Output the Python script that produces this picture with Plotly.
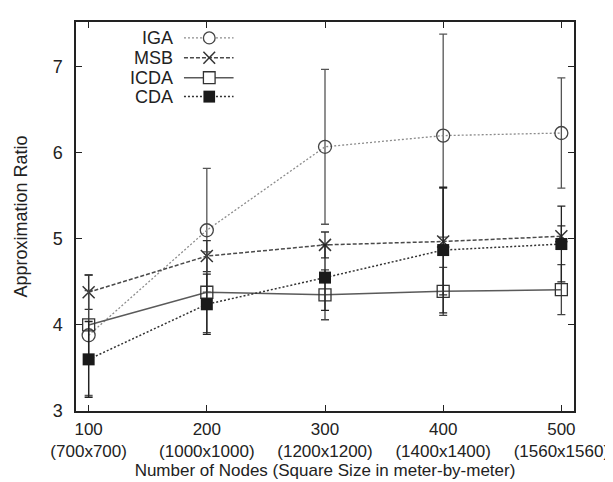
import plotly.graph_objects as go

nodes = [100, 200, 300, 400, 500]
tick_labels = ["100<br>(700x700)", "200<br>(1000x1000)", "300<br>(1200x1200)",
               "400<br>(1400x1400)", "500<br>(1560x1560)"]

iga = [3.88, 5.10, 6.07, 6.20, 6.23]
iga_err = [0.70, 0.72, 0.90, 1.18, 0.64]
msb = [4.38, 4.80, 4.93, 4.97, 5.03]
msb_err = [0.20, 0.18, 0.15, 0.62, 0.12]
icda = [4.00, 4.38, 4.35, 4.39, 4.41]
icda_err = [0.40, 0.47, 0.29, 0.28, 0.29]
cda = [3.60, 4.24, 4.55, 4.87, 4.94]
cda_err = [0.44, 0.35, 0.38, 0.73, 0.44]

series = [
    ("IGA", iga, iga_err, dict(color="#8c8c8c", width=1.3, dash="2px,2px"),
     dict(symbol="circle-open", size=13, color="#444", line=dict(width=1.3, color="#444")), "#555"),
    ("MSB", msb, msb_err, dict(color="#4a4a4a", width=1.5, dash="4px,2px"),
     dict(symbol="x-thin-open", size=12, color="#333", line=dict(width=1.5, color="#333")), "#333"),
    ("ICDA", icda, icda_err, dict(color="#5a5a5a", width=1.5),
     dict(symbol="square-open", size=12, color="#333", line=dict(width=1.3, color="#333")), "#444"),
    ("CDA", cda, cda_err, dict(color="#333", width=1.5, dash="2px,2px"),
     dict(symbol="square", size=12, color="#1a1a1a", line=dict(width=0)), "#222"),
]

fig = go.Figure()
for name, ys, errs, ln, mk, ecol in series:
    fig.add_trace(go.Scatter(
        x=nodes, y=ys, name=name, mode="lines+markers",
        line=ln, marker=mk,
        error_y=dict(type="data", array=errs, visible=True, color=ecol,
                     thickness=1.3, width=4),
        showlegend=False,
    ))

# custom legend (text right-aligned, sample to its right)
L, R, T, B = 66, 578, 12, 403
def px(xp):
    return (xp - L) / (R - L)
def py(yp):
    return (B - yp) / (B - T)

rows = [28, 48, 68, 87]
shapes = []
annotations = []
for (name, ys, errs, ln, mk, ecol), ry in zip(series, rows):
    annotations.append(dict(xref="paper", yref="paper", x=px(168), y=py(ry),
                            text=name, showarrow=False, xanchor="right", yanchor="middle",
                            font=dict(family="Liberation Sans, Arial", size=18, color="#222")))
    shapes.append(dict(type="line", xref="paper", yref="paper",
                       x0=px(177), x1=px(228), y0=py(ry), y1=py(ry),
                       line=dict(color=ln["color"], width=ln["width"], dash=ln.get("dash", "solid"))))
    cx, cy, h = 203, ry, 6
    if name == "IGA":
        shapes.append(dict(type="circle", xref="paper", yref="paper",
                           x0=px(cx - h), x1=px(cx + h), y0=py(cy + h), y1=py(cy - h),
                           fillcolor="white", line=dict(color="#444", width=1.3)))
    elif name == "MSB":
        for s in (1, -1):
            shapes.append(dict(type="line", xref="paper", yref="paper",
                               x0=px(cx - h), x1=px(cx + h), y0=py(cy - s * h), y1=py(cy + s * h),
                               line=dict(color="#333", width=1.5)))
    elif name == "ICDA":
        shapes.append(dict(type="rect", xref="paper", yref="paper",
                           x0=px(cx - h), x1=px(cx + h), y0=py(cy + h), y1=py(cy - h),
                           fillcolor="white", line=dict(color="#333", width=1.3)))
    else:
        shapes.append(dict(type="rect", xref="paper", yref="paper",
                           x0=px(cx - h), x1=px(cx + h), y0=py(cy + h), y1=py(cy - h),
                           fillcolor="#1a1a1a", line=dict(color="#1a1a1a", width=0)))

axis_common = dict(showline=True, linecolor="#222", linewidth=1.5, mirror="ticks",
                   ticks="inside", ticklen=6, tickcolor="#222", tickwidth=1.3,
                   showgrid=False, zeroline=False)

fig.update_layout(
    width=613, height=482,
    margin=dict(l=L, r=613 - R, t=T, b=482 - B),
    paper_bgcolor="white", plot_bgcolor="white",
    font=dict(family="Liberation Sans, Arial", color="#222"),
    shapes=shapes, annotations=annotations,
    xaxis=dict(range=[89.3, 510.7], tickvals=nodes, ticktext=tick_labels,
               tickfont=dict(size=17), title=dict(text="Number of Nodes (Square Size in meter-by-meter)",
                                                 font=dict(size=17), standoff=4),
               ticklabelstandoff=2,
               **axis_common),
    yaxis=dict(range=[3, 7.52], tickvals=[3, 4, 5, 6, 7], tickfont=dict(size=18),
               title=dict(text="Approximation Ratio", font=dict(size=18), standoff=20),
               ticklabelstandoff=8,
               **axis_common),
)

fig.write_html("out.html")
